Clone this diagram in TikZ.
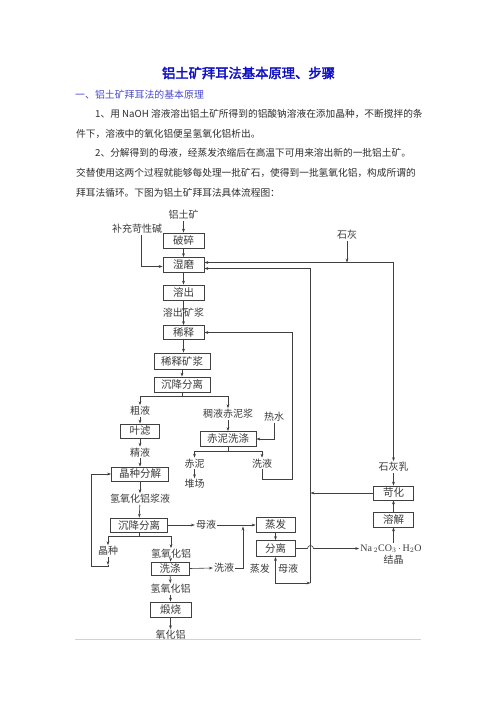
\documentclass[tikz,border=0pt]{standalone}
\usepackage{fontspec}
\usetikzlibrary{arrows.meta,calc}
\newfontfamily\cjk{Noto Sans CJK SC}
\newfontfamily\cjkb[FakeBold=2.5]{Noto Sans CJK SC}
\newfontfamily\lser{Liberation Serif}
\definecolor{lc}{HTML}{404040}
\definecolor{tc}{HTML}{3C3C3C}
\definecolor{pc}{HTML}{2E2E2E}
\definecolor{titlec}{HTML}{1010C8}
\definecolor{headc}{HTML}{4A4AD0}
\begin{document}
\begin{tikzpicture}[x=1pt,y=-1pt,
  box/.style={draw=lc, line width=0.7pt, inner sep=0pt, minimum height=15pt, text=tc,
    font=\cjk\fontsize{10.5}{12}\selectfont},
  lbl/.style={inner sep=1pt, text=tc, font=\cjk\fontsize{10}{12}\selectfont},
  para/.style={inner sep=0pt, anchor=west, text=pc, font=\cjk\fontsize{9.7}{12}\selectfont},
  ln/.style={draw=lc, line width=0.6pt},
  arr/.style={draw=lc, line width=0.6pt, -{Stealth[length=4pt,width=2.8pt]}},
  arrb/.style={draw=lc, line width=0.6pt, {Stealth[length=4pt,width=2.8pt]}-{Stealth[length=4pt,width=2.8pt]}}]
\useasboundingbox[fill=white] (0,0) rectangle (496,702);

% ---------- text part ----------
\node[inner sep=0pt, text=titlec, font=\cjkb\fontsize{13.3}{15}\selectfont] (title) at (248.5,73) {铝土矿拜耳法基本原理、步骤};
\node[inner sep=0pt, anchor=west, text=headc, font=\cjk\fontsize{9.9}{12}\selectfont] (head) at (75,95) {一、铝土矿拜耳法的基本原理};
\node[para] (p1) at (95,114.3) {1、用 NaOH 溶液溶出铝土矿所得到的铝酸钠溶液在添加晶种，不断搅拌的条};
\node[para] (p2) at (76,134) {件下，溶液中的氧化铝便呈氢氧化铝析出。};
\node[para] (p3) at (95,153.3) {2、分解得到的母液，经蒸发浓缩后在高温下可用来溶出新的一批铝土矿。};
\node[para] (p4) at (76,173.3) {交替使用这两个过程就能够每处理一批矿石，使得到一批氢氧化铝，构成所谓的};
\node[para] (p5) at (76,192.7) {拜耳法循环。下图为铝土矿拜耳法具体流程图：};

% ---------- main column ----------
\node[lbl] (ltk) at (183.5,215) {铝土矿};
\node[lbl] (bcx) at (137,229) {补充苛性碱};
\node[box, minimum width=41pt] (posui) at (183.5,240.5) {破碎};
\node[box, minimum width=41pt] (shimo) at (183.5,265) {湿磨};
\node[box, minimum width=41pt] (rongchu) at (183.5,292.5) {溶出};
\node[lbl, anchor=east, inner sep=0pt] (rc1) at (183,313) {溶出};
\node[lbl, anchor=west, inner sep=0pt] (rc2) at (184,313) {矿浆};
\node[box, minimum width=41pt, minimum height=14pt] (xishi) at (183.5,332.5) {稀释};
\node[box, minimum width=56pt, minimum height=16pt] (xskj) at (182,361) {稀释矿浆};
\node[box, minimum width=56pt] (cjfl1) at (182,384.5) {沉降分离};
\node[lbl] (shihui) at (347,235) {石灰};

% ---------- middle ----------
\node[lbl] (culiao) at (140,411) {粗液};
\node[lbl] (cyczj) at (228,414) {稠液赤泥浆};
\node[lbl] (reshui) at (274,417) {热水};
\node[box, minimum width=39pt, minimum height=14pt] (yelv) at (140,431) {叶滤};
\node[box, minimum width=56pt] (cnxd) at (228,439) {赤泥洗涤};
\node[lbl] (jingye) at (140,452.5) {精液};
\node[lbl] (chini) at (194.5,463.5) {赤泥};
\node[lbl] (xiye1) at (262,463.5) {洗液};
\node[lbl] (duichang) at (194.5,484) {堆场};
\node[box, minimum width=57pt, minimum height=14pt] (jzfj) at (140,474) {晶种分解};

% ---------- right column ----------
\node[lbl] (shihuiru) at (393.5,467) {石灰乳};
\node[box, minimum width=40pt, minimum height=14pt] (kehua) at (393.5,493) {苛化};
\node[box, minimum width=40pt] (rongjie) at (393.5,519.5) {溶解};
\node[inner sep=1pt, text=tc, font=\lser\fontsize{10}{12}\selectfont] (nac) at (391,548.5) {Na\,$_2$CO$_3$\,$\cdot$\,H$_2$O};
\node[lbl] (jiejing) at (393.5,560) {结晶};

% ---------- lower ----------
\node[lbl] (qyhl) at (140,499) {氢氧化铝浆液};
\node[box, minimum width=57pt, minimum height=14pt] (cjfl2) at (139,525) {沉降分离};
\node[lbl] (muye) at (206,525) {母液};
\node[box, minimum width=39pt] (zhengfa) at (275.5,525) {蒸发};
\node[box, minimum width=39pt, minimum height=16pt] (fenli) at (275.5,548.5) {分离};
\node[lbl] (jingzhong) at (108,551) {晶种};
\node[lbl] (qyhl2) at (171,554) {氢氧化铝};
\node[box, minimum width=38pt, minimum height=13pt] (xidi) at (170,568.5) {洗涤};
\node[lbl] (xiye2) at (224,568) {洗液};
\node[lbl, anchor=east] (zf2) at (271,568.5) {蒸发};
\node[lbl, anchor=west] (my2) at (277,569) {母液};
\node[lbl] (qyhl3) at (170.5,589) {氢氧化铝};
\node[box, minimum width=41pt] (duanshao) at (170.5,609.5) {煅烧};
\node[lbl] (yhl) at (170.5,635) {氧化铝};

% ---------- coordinates ----------
\coordinate (c1) at (393.5,262.5);
\coordinate (c2t) at (310.5,268.5);
\coordinate (c2b) at (310.5,583);
\coordinate (c3) at (292,479);
\coordinate (mj) at (243,526.5);
\coordinate (jzc) at (108,566);
\coordinate (lft) at (91,566);

% ---------- connectors: main column ----------
\draw[arr] (ltk) -- (posui);
\draw[arr] ([xshift=4pt]bcx.south) |- ([yshift=-1.5pt]shimo.west);
\draw[arr] (posui) -- (shimo);
\draw[arr] (shimo) -- (rongchu);
\draw[arr] (rongchu.south) -- ($(rc1.east)+(0.5,-1)$);
\draw[arr] ($(rc1.east)+(0.5,-1)$) -- (xishi.north);
\draw[arr] (xishi.south) -- (xishi.south |- xskj.north);
\draw[arr] (xskj.south) -- (xskj.south |- cjfl1.north);

% top loops
\draw[arr] (shihui.south) -- (shihui.south |- c1);
\draw[arr] (c1) -- (c1 -| shimo.east);
\draw[arr] (c1) -- (shihuiru.north);
\draw[arr] (c2b) -- (c2t) -- (c2t -| shimo.east);

% branch of first separation
\draw[ln] (cjfl1.south) -- ($(cjfl1.south)+(0,4)$);
\draw[arr] ($(cjfl1.south)+(0,4)$) -| (culiao.north);
\draw[arr] ($(cjfl1.south)+(0,4)$) -| (cyczj.north);
\draw[arr] (culiao) -- (yelv);
\draw[arr] (yelv) -- (jingye);
\draw[arr] (jingye) -- (jzfj);
\draw[arr] (cyczj) -- (cnxd);
\draw[arr] (reshui.south) |- (cnxd.east);
\draw[ln] (cnxd.south) -- ($(cnxd.south)+(0,4)$);
\draw[arr] ($(cnxd.south)+(0,4)$) -| (chini.north);
\draw[arr] ($(cnxd.south)+(0,4)$) -| (xiye1.north);
\draw[arr] (chini) -- (duichang);
\draw[arr] (xiye1.south) |- (c3) |- (xishi.east);

% lower left
\draw[arr] (jzfj) -- (qyhl);
\draw[arr] (qyhl) -- (cjfl2);
\draw[ln] (cjfl2.south) -- ($(cjfl2.south)+(0,4)$);
\draw[arr] ($(cjfl2.south)+(0,4)$) -| (jingzhong.north);
\draw[arr] ($(cjfl2.south)+(0,4)$) -| (qyhl2.north);
\draw[arr] (jingzhong.south) -- ($(jzc)+(0,-1)$);
\draw[arr] ($(jzc)+(0,-1)$) -- (jzc) -- (lft) |- (jzfj.west);
\draw[arr] (qyhl2) -- (xidi);
\draw[arr] (xidi) -- (qyhl3);
\draw[arr] (qyhl3) -- (duanshao);
\draw[arr] (duanshao) -- (yhl);
\draw[arr] (xidi.east) -- (xiye2.west);
\draw[arr] (xiye2.east) -| (mj);
\draw[arr] (cjfl2.east) -- (muye.west);
\draw[arr] (muye.east) -- (zhengfa.west);

% evaporation / separation
\draw[arr] (zhengfa) -- (fenli);
\draw[arrb] (fenli.south) |- (c2b);
\draw[arr] (fenli.east) -- ($(fenli.east -| c2t)+(-3,0)$) arc[start angle=180, end angle=0, radius=3pt] -- (nac.west);
\draw[arr] (kehua.west) -- (kehua.west -| c2t);
\draw[arr] (rongjie) -- (kehua);
\draw[arr] (rongjie.south |- nac.north) -- (rongjie.south);
\draw[arr] (shihuiru) -- (kehua);

% bottom rule
\draw[draw=gray!35, line width=0.8pt] (75,639) -- (421,639);
\end{tikzpicture}
\end{document}
